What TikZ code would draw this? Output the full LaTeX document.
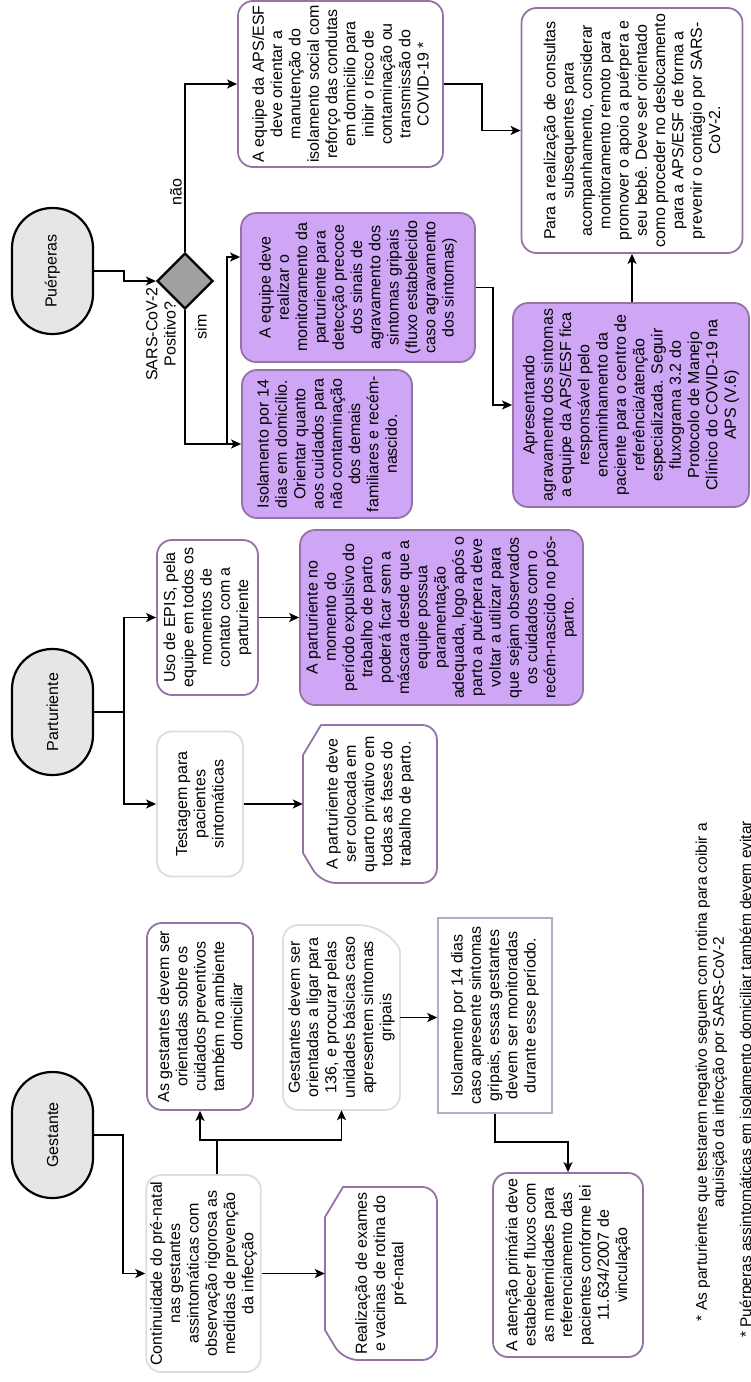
\documentclass[tikz,border=0pt]{standalone}
\usepackage{fontspec}
\setmainfont{Liberation Sans}
\usetikzlibrary{shapes.geometric,arrows.meta,calc}
\definecolor{pstroke}{RGB}{150,115,166}
\definecolor{pfillc}{RGB}{207,166,245}
\definecolor{gstroke}{RGB}{221,221,221}
\definecolor{istroke}{RGB}{185,170,200}
\definecolor{tfill}{RGB}{230,230,230}
\definecolor{dfill}{RGB}{160,160,160}
\newcommand\bxfont{\fontsize{16}{18.3}\selectfont}
\newcommand\ftfont{\fontsize{15.5}{17}\selectfont}
\begin{document}
\begin{tikzpicture}[x=1pt,y=1pt,
  base/.style={rotate=90, align=center, font=\bxfont, inner sep=4pt},
  term/.style={base, draw=black, line width=2.2pt, fill=tfill, rounded corners=40pt, minimum width=126pt, minimum height=81pt},
  pbox/.style={base, draw=pstroke, line width=1.8pt, fill=white, rounded corners=15pt},
  pfill/.style={pbox, fill=pfillc},
  gbox/.style={base, draw=gstroke, line width=1.8pt, fill=white, rounded corners=15pt},
  ibox/.style={base, draw=istroke, line width=1.5pt, fill=white},
  tbox/.style={base, draw=none},
  chamf/.style={draw=pstroke, line width=1.8pt},
  gline/.style={draw=gstroke, line width=1.8pt},
  arr/.style={line width=1.5pt, -{Stealth[length=10pt,width=9pt,inset=2.5pt]}},
  ln/.style={line width=1.5pt},
  lbl/.style={rotate=90, align=center, font=\bxfont, inner sep=0pt},
]
\useasboundingbox (0,0) rectangle (751,-1382);

% terminals
\node[term] (puer) at (52.5,-271) {Puérperas};
\node[term] (part) at (52.5,-712) {Parturiente};
\node[term] (gest) at (52.5,-1135) {Gestante};

% decision
\node[diamond, draw=black, line width=2.2pt, fill=dfill, minimum width=56pt, minimum height=56pt, inner sep=0pt] (dec) at (185,-281) {};
\node[lbl] (nao) at (176,-192) {não};
\node[lbl] (sim) at (201,-327) {sim};
\node[lbl] (q) at (161,-334) {SARS-CoV-2\\Positivo?};

% Puerperas column
\node[pbox, minimum width=166pt, minimum height=205pt] (apsorient) at (340.5,-84) {A equipe da APS/ESF\\deve orientar a\\manutenção do\\isolamento social com\\reforço das condutas\\em domicilio para\\inibir o risco de\\contaminação ou\\transmissão do\\COVID-19 *};
\node[pfill, minimum width=149pt, minimum height=234pt] (monit) at (358,-287.5) {A equipe deve\\realizar o\\monitoramento da\\parturiente para\\detecção precoce\\dos sinais de\\agravamento dos\\sintomas gripais\\(fluxo estabelecido\\caso agravamento\\dos sintomas)};
\node[pfill, minimum width=148pt, minimum height=170pt] (isop) at (327,-444) {Isolamento por 14\\dias em domicílio.\\Orientar quanto\\aos cuidados para\\não contaminação\\dos demais\\familiares e recém-\\nascido.};
\node[pbox, minimum width=245pt, minimum height=221pt] (consult) at (632,-130.5) {Para a realização de consultas\\subsequentes para\hspace*{4.8em}\\acompanhamento, considerar\\monitoramento remoto para\\promover o apoio a puérpera e\\seu bebê. Deve ser orientado\\como proceder no deslocamento\\para a APS/ESF de forma a\\prevenir o contágio por SARS-\\CoV-2.};
\node[pfill, minimum width=204pt, minimum height=236pt] (apres) at (631,-405) {Apresentando\\agravamento dos sintomas\\a equipe da APS/ESF fica\\responsável pelo\\encaminhamento da\\paciente para o centro de\\referência/atenção\\especializada. Seguir\\fluxograma 3.2 do\\Protocolo de Manejo\\Clínico do COVID-19 na\\APS (V.6)};

% Parturiente column
\node[pbox, minimum width=155pt, minimum height=101pt] (uso) at (207.5,-617.5) {Uso de EPIS, pela\\equipe em todos os\\momentos de\\contato com a\\parturiente};
\node[pfill, minimum width=175pt, minimum height=283pt] (mask) at (441.5,-617.5) {A parturiente no\\momento do\\período expulsivo do\\trabalho de parto\\poderá ficar sem a\\máscara desde que a\\equipe possua\\paramentação\\adequada, logo após o\\parto a puérpera deve\\voltar a utilizar para\\que sejam observados\\os cuidados com o\\recém-nascido no pós-\\parto.};
\node[gbox, minimum width=145pt, minimum height=86pt] (testa) at (200,-804) {Testagem para\\pacientes\\sintomáticas};
\node[tbox, minimum width=158pt, minimum height=134pt] (quarto) at (370,-804) {A parturiente deve\\ser colocada em\\quarto privativo em\\todas as fases do\\trabalho de parto.};
\draw[chamf] (303,-755) -- (321,-725) {[rounded corners=15pt] -- (437,-725) -- (437,-883) -- (321,-883)} -- (303,-853) -- cycle;

% Gestante column
\node[gbox, minimum width=197pt, minimum height=107pt] (cont) at (203.5,-1273.5) {Continuidade do pré-natal\\nas gestantes\\assintomáticas com\\observação rigorosa as\\medidas de prevenção\\da infecção};
\node[pbox, minimum width=187pt, minimum height=106pt] (orient) at (200,-1016.5) {As gestantes devem ser\\orientadas sobre os\\cuidados preventivos\\também no ambiente\\domiciliar};
\node[tbox, minimum width=185pt, minimum height=117pt] (ligar) at (341.5,-1017.5) {Gestantes devem ser\\orientadas a ligar para\\136, e procurar pelas\\unidades básicas caso\\apresentem sintomas\\gripais};
\draw[gline, rounded corners=15pt] (320,-925) -- (283,-925) -- (283,-1110) -- (400,-1110) -- (400,-967) [sharp corners] arc[start angle=0, end angle=90, radius=42] -- (320,-925);
\node[ibox, minimum width=195pt, minimum height=114pt] (isog) at (495,-1015.5) {Isolamento por 14 dias\\caso apresente sintomas\\gripais, essas gestantes\\devem ser monitoradas\\durante esse período.};
\node[tbox, minimum width=173pt, minimum height=112pt] (exames) at (381,-1273.5) {Realização de exames\\e vacinas de rotina do\\pré-natal};
\draw[chamf] (325,-1217) -- (343,-1187) {[rounded corners=15pt] -- (437,-1187) -- (437,-1360) -- (343,-1360)} -- (325,-1330) -- cycle;
\node[pbox, minimum width=184pt, minimum height=150pt] (atenc) at (568,-1265) {A atenção primária deve\\estabelecer fluxos com\\as maternidades para\\referenciamento das\\pacientes conforme lei\\11.634/2007 de\\vinculação};

% footnotes
\node[lbl, font=\ftfont] (fn1) at (711.5,-1072) {* As parturientes que testarem negativo seguem com rotina para coibir a\\aquisição da infecção por SARS-CoV-2};
\node[lbl, font=\ftfont, anchor=west] (fn2) at (747,-1338) {* Puérperas assintomáticas em isolamento domiciliar também devem evitar};

% connectors: Puerperas
\draw[arr] (puer.south) -- (puer.south -| 124,0) |- (dec.west);
\draw[arr] (dec.north) |- (apsorient.north);
\draw[arr] (dec.south) |- (isop.north);
\coordinate (j1) at ($(isop.north)+(-14,0)$);
\draw[arr] (j1) |- (monit.north |- 0,-257);
\draw[arr] (apsorient.south) -- (apsorient.south -| 482,0) |- (consult.north);
\draw[arr] (monit.south) -- (monit.south -| 493,0) |- (apres.north);
\draw[arr] (consult.west |- apres.east) -- (consult.west);

% connectors: Parturiente
\coordinate (pj) at (part.south -| 124,0);
\draw[ln] (part.south) -- (pj);
\draw[arr] (pj) |- (uso.north);
\draw[arr] (pj) |- (testa.north);
\draw[arr] (uso.south) -- (mask.north);
\draw[arr] (testa.south) -- (quarto.north);

% connectors: Gestante
\draw[arr] (gest.south) -- (gest.south -| 123,0) |- (cont.north);
\coordinate (split) at (217,-1140);
\draw[ln] (cont.east -| split) -- (split);
\draw[arr] (split) -| (orient.west);
\draw[arr] (split) -| (ligar.west);
\draw[arr] (cont.south) -- (exames.north);
\draw[arr] (ligar.south) -- (ligar.south -| isog.north);
\draw[arr] (isog.west) -- (isog.west |- 0,-1142) -| (atenc.east);
\end{tikzpicture}
\end{document}
